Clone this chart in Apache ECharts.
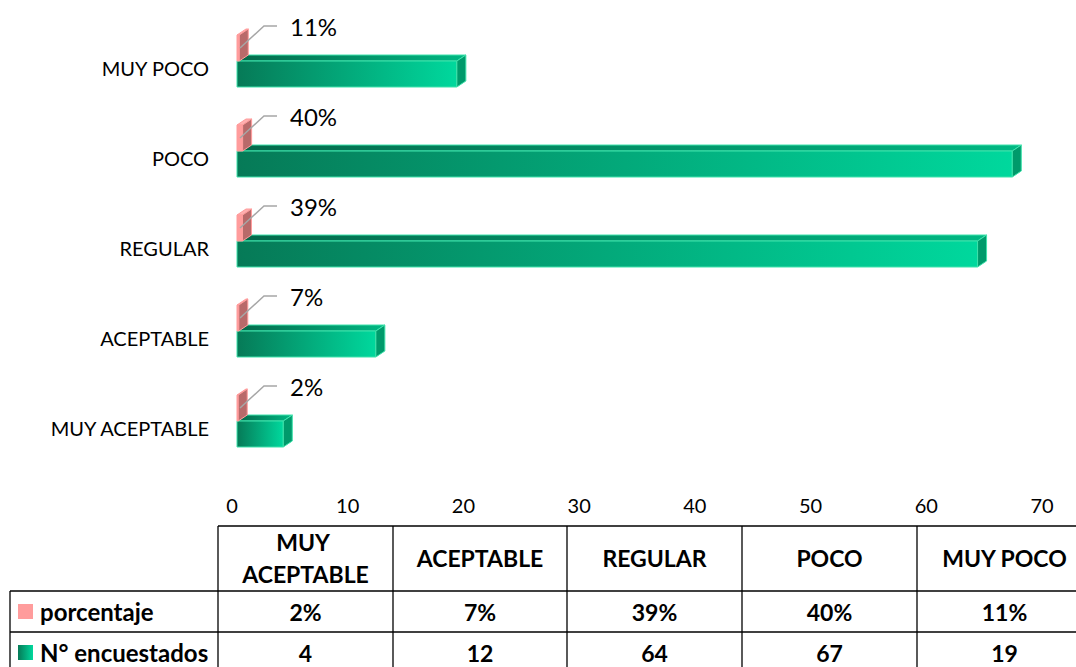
<!DOCTYPE html>
<html>
<head>
<meta charset="utf-8">
<script src="https://cdn.jsdelivr.net/npm/echarts@6/dist/echarts.min.js"></script>
<style>
  html, body { margin: 0; padding: 0; background: #fff; }
  #chart { width: 1076px; height: 667px; }
</style>
</head>
<body>
<div id="chart"></div>
<script>
// categories bottom -> top, as on the axis
const categories = ['MUY ACEPTABLE', 'ACEPTABLE', 'REGULAR', 'POCO', 'MUY POCO']
const porcentaje = [0.02, 0.07, 0.39, 0.40, 0.11]
const encuestados = [4, 12, 64, 67, 19]
const seriesNames = ['porcentaje', 'N° encuestados']

const FONT = 'Lato, "Open Sans", sans-serif'
const DX = 9, DY = -6   // fake 3d depth

const greenFront = new echarts.graphic.LinearGradient(0, 0, 1, 0, [
  { offset: 0, color: '#067a57' }, { offset: 1, color: '#00d89d' }
])
const greenTop = new echarts.graphic.LinearGradient(0, 0, 1, 0, [
  { offset: 0, color: '#04684a' }, { offset: 1, color: '#00b883' }
])

const chart = echarts.init(document.getElementById('chart'), null, { renderer: 'svg' })

function box(x0, x1, yTop, yBot, front, top, side, stroke) {
  return [
    { type: 'polygon', shape: { points: [[x0, yTop], [x1, yTop], [x1 + DX, yTop + DY], [x0 + DX, yTop + DY]] },
      style: { fill: top, stroke: stroke, lineWidth: 1 } },
    { type: 'rect', shape: { x: x0, y: yTop, width: Math.max(x1 - x0, 0.5), height: yBot - yTop },
      style: { fill: front, stroke: stroke, lineWidth: 1 } },
    { type: 'polygon', shape: { points: [[x1, yTop], [x1 + DX, yTop + DY], [x1 + DX, yBot + DY], [x1, yBot]] },
      style: { fill: side, stroke: stroke, lineWidth: 1 } }
  ]
}

const renderGreen = (params, api) => {
  const p0 = api.coord([0, api.value(1)])
  const p1 = api.coord([api.value(0), api.value(1)])
  const yc = p0[1]
  return { type: 'group', children: box(p0[0], p1[0], yc - 7, yc + 19, greenFront, greenTop, '#009a6b', '#3fe3ac') }
}

const renderPink = (params, api) => {
  const v = api.value(0)
  const p0 = api.coord([0, api.value(1)])
  const p1 = api.coord([v, api.value(1)])
  const yc = p0[1]
  const x0 = p0[0]
  const kids = box(x0, p1[0] + 1, yc - 33, yc - 7, '#ff9c9c', '#ffb0b0', '#b86a6a', '#ff9c9c')
  kids.push({ type: 'polyline', shape: { points: [[x0 + 3, yc - 20], [x0 + 27, yc - 42], [x0 + 40, yc - 42]] },
    style: { stroke: '#a6a6a6', lineWidth: 1.5, fill: null } })
  kids.push({ type: 'text', x: x0 + 53, y: yc - 42,
    style: { text: Math.round(v * 100) + '%', font: '24px ' + FONT, fill: '#000', verticalAlign: 'middle', align: 'left' } })
  return { type: 'group', children: kids }
}

// data table under the chart
const colX = [218, 393, 567, 742, 917, 1092]
const rowY = [526, 591, 632, 673]
const table = []
const lineStyle = { stroke: '#000', lineWidth: 1.3 }
table.push({ type: 'line', shape: { x1: 218, y1: rowY[0], x2: 1076, y2: rowY[0] }, style: lineStyle })
table.push({ type: 'line', shape: { x1: 10, y1: rowY[1], x2: 1076, y2: rowY[1] }, style: lineStyle })
table.push({ type: 'line', shape: { x1: 10, y1: rowY[2], x2: 1076, y2: rowY[2] }, style: lineStyle })
table.push({ type: 'line', shape: { x1: 10, y1: rowY[1], x2: 10, y2: 667 }, style: lineStyle })
colX.slice(0, 5).forEach(x => {
  table.push({ type: 'line', shape: { x1: x, y1: rowY[0], x2: x, y2: 667 }, style: lineStyle })
})
const boldFont = 'bold 23px ' + FONT
categories.forEach((c, i) => {
  const cx = (colX[i] + colX[i + 1]) / 2
  table.push({ type: 'text', x: cx, y: 558,
    style: { text: c, font: boldFont, fill: '#000', align: 'center', verticalAlign: 'middle',
      width: 155, overflow: 'break', lineHeight: 32 } })
  table.push({ type: 'text', x: cx, y: 612,
    style: { text: Math.round(porcentaje[i] * 100) + '%', font: boldFont, fill: '#000', align: 'center', verticalAlign: 'middle' } })
  table.push({ type: 'text', x: cx, y: 653,
    style: { text: String(encuestados[i]), font: boldFont, fill: '#000', align: 'center', verticalAlign: 'middle' } })
})
table.push({ type: 'rect', shape: { x: 18, y: 604, width: 15, height: 15 }, style: { fill: '#ff9c9c' } })
table.push({ type: 'rect', shape: { x: 18, y: 645, width: 15, height: 15 },
  style: { fill: new echarts.graphic.LinearGradient(0, 0, 1, 0, [
    { offset: 0, color: '#067a57' }, { offset: 1, color: '#00d89d' }]) } })
table.push({ type: 'text', x: 40, y: 611,
  style: { text: seriesNames[0], font: 'bold 24px ' + FONT, fill: '#000', verticalAlign: 'middle' } })
table.push({ type: 'text', x: 40, y: 652,
  style: { text: seriesNames[1], font: 'bold 24px ' + FONT, fill: '#000', verticalAlign: 'middle' } })

const option = {
  animation: false,
  grid: { left: 237, right: 29, top: 23, bottom: 194 },
  xAxis: {
    type: 'value', min: 0, max: 70, interval: 10,
    axisLine: { show: false }, axisTick: { show: false }, splitLine: { show: false },
    axisLabel: { margin: 22, color: '#000', fontFamily: FONT, fontSize: 20, padding: [0, 10, 0, 0] }
  },
  yAxis: {
    type: 'category', data: categories,
    axisLine: { show: false }, axisTick: { show: false },
    axisLabel: { margin: 28, color: '#000', fontFamily: FONT, fontSize: 20 }
  },
  graphic: table,
  series: [
    { name: seriesNames[1], type: 'custom', renderItem: renderGreen,
      data: encuestados.map((v, i) => [v, i]), encode: { x: 0, y: 1 }, z: 2 },
    { name: seriesNames[0], type: 'custom', renderItem: renderPink,
      data: porcentaje.map((v, i) => [v, i]), encode: { x: 0, y: 1 }, z: 3 }
  ]
}

chart.setOption(option)
</script>
</body>
</html>
